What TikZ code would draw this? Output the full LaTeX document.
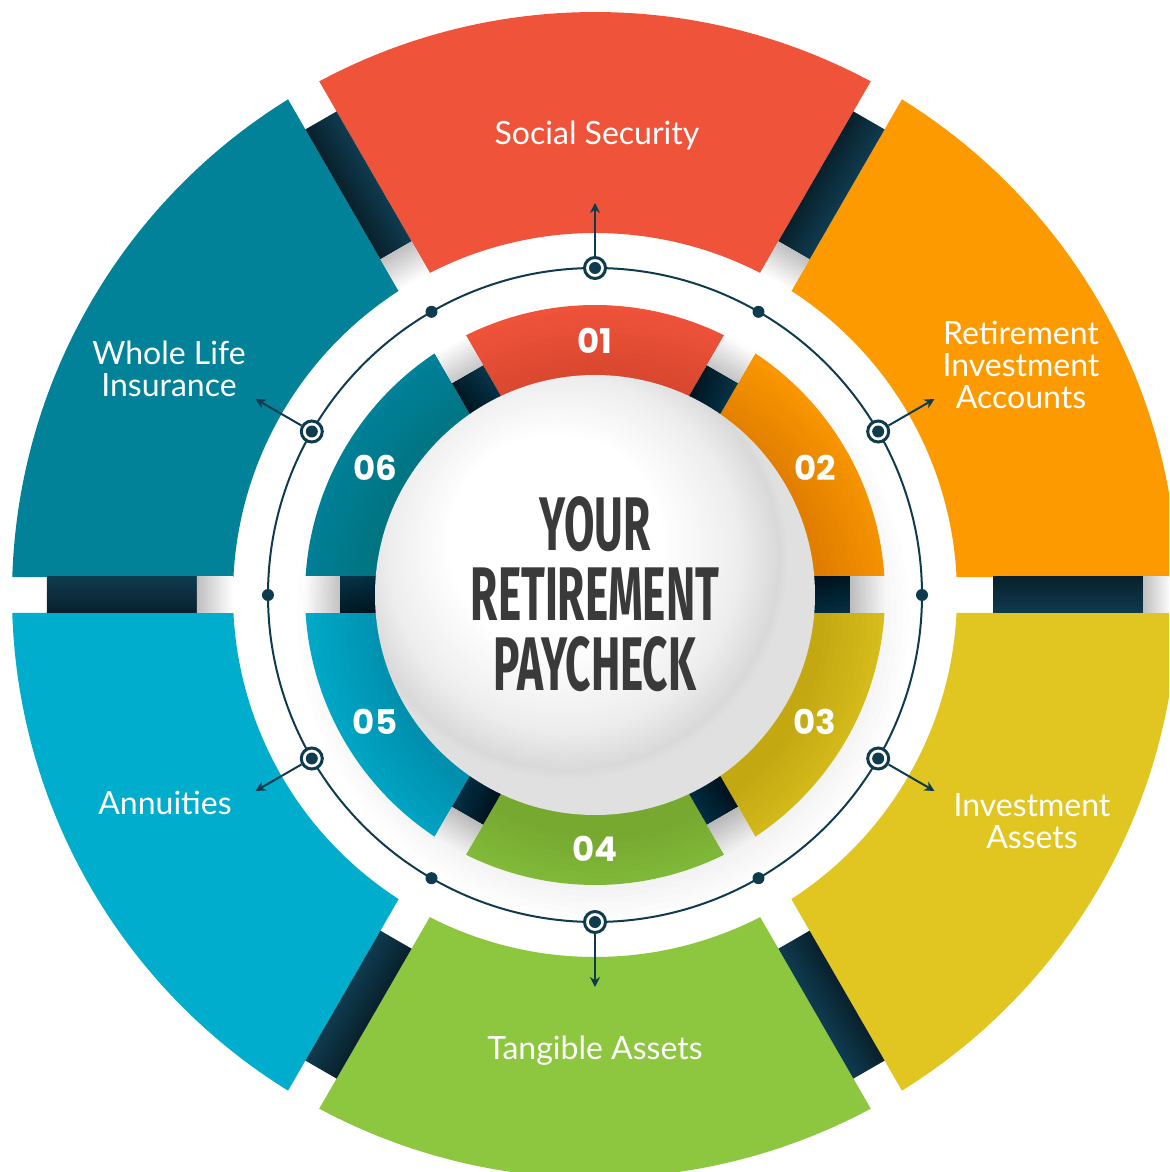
\documentclass[tikz,border=0pt]{standalone}
\usepackage{fontspec}
\setmainfont{Lato}
\newfontfamily\numfont{Poppins}
\newfontfamily\headfont{Fira Sans}[FakeStretch=0.58]
\usetikzlibrary{arrows.meta}
\definecolor{SecRed}{RGB}{239, 83, 58}
\definecolor{SecOrange}{RGB}{253, 154, 0}
\definecolor{SecYellow}{RGB}{225, 198, 33}
\definecolor{SecGreen}{RGB}{141, 198, 63}
\definecolor{SecCyan}{RGB}{0, 173, 204}
\definecolor{SecTeal}{RGB}{1, 130, 153}
\definecolor{Navy}{RGB}{15, 59, 79}
\definecolor{Ink}{RGB}{58, 58, 58}
\pgfdeclareradialshading{discshade}{\pgfpoint{-6bp}{8bp}}{color(0bp)=(white); color(12bp)=(white); color(20bp)=(black!7); color(24bp)=(black!15); color(25bp)=(black!12); color(50bp)=(black!12)}

\begin{document}
\begin{tikzpicture}[x=0.5pt, y=0.5pt, lbl/.style={text=white, font=\fontsize{16}{16}\selectfont, align=center}, num/.style={text=white, font=\numfont\bfseries\fontsize{17}{17}\selectfont}, title/.style={text=Ink, font=\headfont\bfseries\fontsize{38}{35}\selectfont, align=center}, ringmark/.style={circle, draw=Navy, line width=1.5pt, fill=white, minimum size=10.5pt, inner sep=0pt, path picture={\fill[Navy] (path picture bounding box.center) circle (3pt);}}, pointer/.style={-{Stealth[length=5pt, width=5pt]}, Navy, line width=1pt}, gapbar/.style={top color=Navy!55!black, bottom color=Navy}]
\useasboundingbox (-595,-577) rectangle (574,595);
\clip (-595,-577) rectangle (574,595);
% outer and inner ring sectors
\foreach \c/\col in {90/SecRed, 30/SecOrange, -30/SecYellow, -90/SecGreen, -150/SecCyan, 150/SecTeal} {
  \fill[\col] ({\c-30+asin(18/583)}:583) arc[start angle={\c-30+asin(18/583)}, end angle={\c+30-asin(18/583)}, radius=583] -- ({\c+30-asin(18/362)}:362) arc[start angle={\c+30-asin(18/362)}, end angle={\c-30+asin(18/362)}, radius=362] -- cycle;
  \fill[\col] ({\c-30+asin(18/290)}:290) arc[start angle={\c-30+asin(18/290)}, end angle={\c+30-asin(18/290)}, radius=290] -- ({\c+30-asin(18/200)}:200) arc[start angle={\c+30-asin(18/200)}, end angle={\c-30+asin(18/200)}, radius=200] -- cycle;
}
% dark bars in the gaps
\foreach \a in {0,60,...,300} {
  \begin{scope}[transform canvas={rotate=\a}]
    \shade[gapbar] (398,-18) rectangle (548,18);
    \shade[gapbar] (215,-18) rectangle (255,18);
    \shade[left color=black!18, right color=white] (255,-18) rectangle (290,18);
  \end{scope}
}
\begin{scope}[transform canvas={rotate=0}]
  \shade[left color=black!25, right color=white] (548,-18) rectangle (576,18);
\end{scope}
\foreach \a in {60,120,180} {
  \begin{scope}[transform canvas={rotate=\a}]
    \shade[left color=white, right color=black!25] (362,-18) rectangle (398,18);
  \end{scope}
}
% soft shadow under the disc
\foreach \r in {222,228,...,306} \fill[black, opacity=0.007] (8,-20) circle (\r);
\draw[Navy, line width=1pt] (0,0) circle (327);
\foreach \a in {0,60,...,300} \fill[Navy] (\a:327) circle (6);
\foreach \a/\n in {90/1, 30/2, -30/3, -90/4, -150/5, 150/6} {
  \node[ringmark] (m\n) at (\a:327) {};
  \coordinate (t\n) at (\a:392);
  \draw[pointer] (m\n) -- (t\n);
}
\shade[shading=discshade] (0,0) circle (220);
\node[title] (head) at (0,1) {YOUR\\RETIREMENT\\PAYCHECK};
\node[num] (n1) at (90:254) {01};
\node[num] (n2) at (30:254) {02};
\node[num] (n3) at (-30:254) {03};
\node[num] (n4) at (-90:254) {04};
\node[num] (n5) at (-150:254) {05};
\node[num] (n6) at (150:254) {06};
\node[lbl] (lab1) at (2,460) {Social Security};
\node[lbl] (lab2) at (426,230) {Retirement\\Investment\\Accounts};
\node[lbl] (lab3) at (437,-226) {Investment\\Assets};
\node[lbl] (lab4) at (0,-456) {Tangible Assets};
\node[lbl] (lab5) at (-430,-208) {Annuities};
\node[lbl] (lab6) at (-426,226) {Whole Life\\Insurance};
\end{tikzpicture}
\end{document}
